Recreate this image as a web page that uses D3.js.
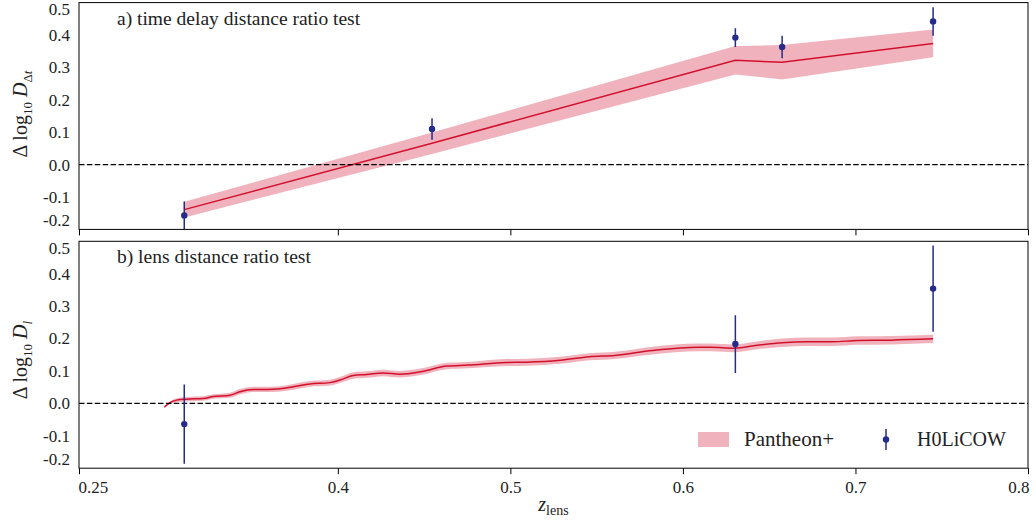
<!DOCTYPE html>
<html>
<head>
<meta charset="utf-8">
<script src="https://cdn.jsdelivr.net/npm/d3@7"></script>
<style>
  body { margin: 0; background: #fff; }
  svg text { font-family: "Liberation Serif", "DejaVu Serif", serif; fill: #222; }
</style>
</head>
<body>
<div id="chart"></div>
<script>
/* CONSTANTS AND GLOBALS */
const width = 1036,
  height = 525,
  left = 79,
  right = 1028;

// vertical extent of the two stacked panels
const panelTop = { y0: 2.6, y1: 229.4 },
  panelBottom = { y0: 241.3, y1: 468.2 };

const bandColor = "#f0b3bd",
  lineColor = "#d3102c",
  pointColor = "#232c8c";

/* DATA */
const xTicks = [0.25, 0.4, 0.5, 0.6, 0.7, 0.8];
const yTicks = [-0.2, -0.1, 0.0, 0.1, 0.2, 0.3, 0.4, 0.5];

// a) time delay distance ratio, Pantheon+ prediction at the lens redshifts
const tdZ = [0.311, 0.4546, 0.6304, 0.6575, 0.745];
const tdMean = [-0.139, 0.066, 0.322, 0.316, 0.374];
const tdSigma = [0.024, 0.033, 0.044, 0.053, 0.043];

// a) H0LiCOW time delay measurements
const tdLensZ = [0.311, 0.4546, 0.6304, 0.6575, 0.745];
const tdLensVal = [-0.157, 0.110, 0.392, 0.363, 0.442];
const tdLensErr = [0.043, 0.033, 0.029, 0.035, 0.044];

// b) lens distance ratio, Pantheon+ curve
const ldZ = [0.2994, 0.3027, 0.3066, 0.3124, 0.322, 0.3278, 0.3375, 0.3433, 0.351, 0.3587,
  0.3665, 0.3742, 0.3838, 0.3954, 0.4012, 0.409, 0.4167, 0.4263, 0.436, 0.4487,
  0.4632, 0.4754, 0.4973, 0.5095, 0.5289, 0.5458, 0.5605, 0.5823, 0.609, 0.6162,
  0.6299, 0.643, 0.6576, 0.6722, 0.6867, 0.7013, 0.7207, 0.745];
const ldMean = [-0.012, 0.002, 0.010, 0.013, 0.015, 0.021, 0.025, 0.036, 0.043, 0.043,
  0.045, 0.051, 0.060, 0.064, 0.072, 0.086, 0.089, 0.094, 0.090, 0.098,
  0.115, 0.118, 0.126, 0.127, 0.133, 0.144, 0.148, 0.163, 0.173, 0.173,
  0.170, 0.179, 0.187, 0.190, 0.190, 0.194, 0.195, 0.199];
const ldSigma = [0.0, 0.004, 0.006, 0.007, 0.007, 0.007, 0.008, 0.008, 0.008, 0.008,
  0.008, 0.009, 0.009, 0.009, 0.009, 0.010, 0.010, 0.010, 0.010, 0.010,
  0.010, 0.010, 0.011, 0.011, 0.011, 0.011, 0.011, 0.012, 0.012, 0.012,
  0.012, 0.012, 0.013, 0.013, 0.013, 0.013, 0.013, 0.013];

// b) H0LiCOW lens distance measurements
const ldLensZ = [0.311, 0.6304, 0.745];
const ldLensVal = [-0.064, 0.183, 0.354];
const ldLensErr = [0.122, 0.089, 0.133];

/* SCALES */
const xScale = d3.scaleLinear().domain([0.25, 0.8]).range([left, right]);

const svg = d3.select("#chart")
  .append("svg")
  .attr("width", width)
  .attr("height", height);

function drawPanel(id, panel, band, points, opts) {
  const yScale = d3.scaleLinear().domain([-0.2, 0.5]).range([panel.y1, panel.y0]);
  const g = svg.append("g");

  svg.append("clipPath").attr("id", "clip-" + id)
    .append("rect")
    .attr("x", left).attr("y", panel.y0)
    .attr("width", right - left).attr("height", panel.y1 - panel.y0);

  const plot = g.append("g").attr("clip-path", `url(#clip-${id})`);

  // Pantheon+ band and mean line
  const bandData = band.z.map((z, i) => ({ z, m: band.mean[i], s: band.sigma[i] }));
  plot.append("path")
    .datum(bandData)
    .attr("fill", bandColor)
    .attr("d", d3.area()
      .curve(opts.curve)
      .x(d => xScale(d.z))
      .y0(d => yScale(d.m - d.s))
      .y1(d => yScale(d.m + d.s)));

  plot.append("path")
    .datum(bandData)
    .attr("fill", "none")
    .attr("stroke", lineColor)
    .attr("stroke-width", 1.5)
    .attr("d", d3.line()
      .curve(opts.curve)
      .x(d => xScale(d.z))
      .y(d => yScale(d.m)));

  // zero line
  plot.append("line")
    .attr("x1", left).attr("x2", right)
    .attr("y1", yScale(0)).attr("y2", yScale(0))
    .attr("stroke", "#000")
    .attr("stroke-width", 1.3)
    .attr("stroke-dasharray", "5.5,2.4");

  // H0LiCOW points
  const pts = points.z.map((z, i) => ({ z, v: points.val[i], e: points.err[i] }));
  plot.selectAll(".err")
    .data(pts)
    .join("line")
    .attr("x1", d => xScale(d.z)).attr("x2", d => xScale(d.z))
    .attr("y1", d => yScale(d.v - d.e)).attr("y2", d => yScale(d.v + d.e))
    .attr("stroke", pointColor)
    .attr("stroke-width", 1.5);
  plot.selectAll(".pt")
    .data(pts)
    .join("circle")
    .attr("cx", d => xScale(d.z))
    .attr("cy", d => yScale(d.v))
    .attr("r", 3.2)
    .attr("fill", pointColor);

  // axes
  const xAxis = d3.axisBottom(xScale)
    .tickValues(xTicks)
    .tickSize(6)
    .tickPadding(7)
    .tickFormat(opts.xLabels ? d => String(d) : "");
  g.append("g")
    .attr("transform", `translate(0, ${panel.y1})`)
    .call(xAxis)
    .call(a => a.select(".domain").remove())
    .call(a => a.selectAll("text")
      .style("font-size", "17px")
      .attr("fill", "#222")
      // end labels sit inside the axis span
      .attr("text-anchor", d => d === 0.25 ? "start" : d === 0.8 ? "end" : "middle")
      .attr("x", d => d === 0.25 ? -1 : d === 0.8 ? 1 : 0));

  const yAxis = d3.axisLeft(yScale)
    .tickValues(yTicks)
    .tickSize(0)
    .tickPadding(9)
    .tickFormat(d => d.toFixed(1));
  g.append("g")
    .attr("transform", `translate(${left}, 0)`)
    .call(yAxis)
    .call(a => a.select(".domain").remove())
    .call(a => a.selectAll("text")
      .style("font-size", "17px")
      .attr("fill", "#222")
      .attr("y", d => d === 0.5 ? 6.5 : d === -0.2 ? -9 : 0));

  // frame
  g.append("rect")
    .attr("x", left).attr("y", panel.y0)
    .attr("width", right - left).attr("height", panel.y1 - panel.y0)
    .attr("fill", "none")
    .attr("stroke", "#000")
    .attr("stroke-width", 1);

  // panel title
  g.append("text")
    .attr("x", 117)
    .attr("y", panel.y0 + 22)
    .style("font-size", "19.5px")
    .text(opts.title);

  // y label
  const cy = opts.labelY;
  const lab = g.append("text")
    .attr("transform", `translate(27, ${cy}) rotate(-90)`)
    .attr("text-anchor", "middle")
    .style("font-size", "20px");
  lab.append("tspan").text("\u0394 log");
  lab.append("tspan").attr("dy", 5).style("font-size", "13px").text("10");
  lab.append("tspan").attr("dy", -5).text(" ");
  lab.append("tspan").style("font-style", "italic").text("D");
  const sub = lab.append("tspan").attr("dy", 5).style("font-size", "13px");
  opts.subscript(sub);

  return yScale;
}

drawPanel("a", panelTop,
  { z: tdZ, mean: tdMean, sigma: tdSigma },
  { z: tdLensZ, val: tdLensVal, err: tdLensErr },
  {
    curve: d3.curveLinear,
    xLabels: false,
    title: "a) time delay distance ratio test",
    labelY: 114,
    subscript: s => { s.text("\u0394"); s.append("tspan").style("font-style", "italic").text("t"); }
  });

drawPanel("b", panelBottom,
  { z: ldZ, mean: ldMean, sigma: ldSigma },
  { z: ldLensZ, val: ldLensVal, err: ldLensErr },
  {
    curve: d3.curveMonotoneX,
    xLabels: true,
    title: "b) lens distance ratio test",
    labelY: 360,
    subscript: s => { s.style("font-style", "italic").text("l"); }
  });

// x label
const xl = svg.append("text")
  .attr("x", (left + right) / 2)
  .attr("y", 511)
  .attr("text-anchor", "middle")
  .style("font-size", "20px");
xl.append("tspan").style("font-style", "italic").text("z");
xl.append("tspan").attr("dy", 4).style("font-size", "14px").text("lens");

// legend
const legend = svg.append("g");
legend.append("rect")
  .attr("x", 698).attr("y", 432)
  .attr("width", 31).attr("height", 15)
  .attr("fill", bandColor);
legend.append("text")
  .attr("x", 744).attr("y", 446)
  .style("font-size", "21px")
  .text("Pantheon+");
legend.append("line")
  .attr("x1", 886).attr("x2", 886)
  .attr("y1", 429).attr("y2", 450)
  .attr("stroke", pointColor)
  .attr("stroke-width", 1.5);
legend.append("circle")
  .attr("cx", 886).attr("cy", 439.5)
  .attr("r", 3.2)
  .attr("fill", pointColor);
legend.append("text")
  .attr("x", 917).attr("y", 446)
  .style("font-size", "20px")
  .text("H0LiCOW");
</script>
</body>
</html>
